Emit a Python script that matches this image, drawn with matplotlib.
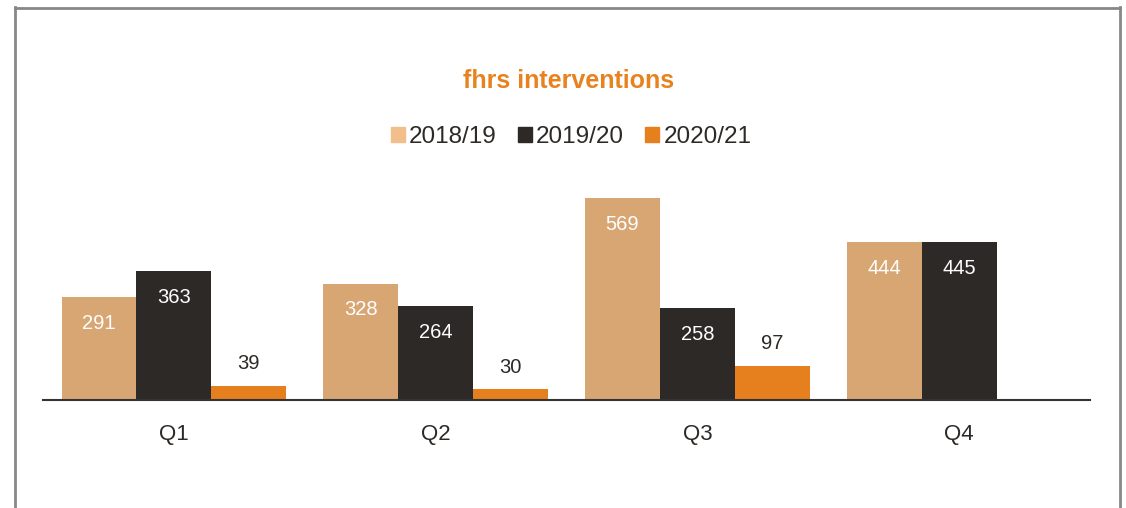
import matplotlib
matplotlib.use("Agg")
import matplotlib.pyplot as plt
from matplotlib.patches import Rectangle
import numpy as np

categories = ["Q1", "Q2", "Q3", "Q4"]
series_names = ["2018/19", "2019/20", "2020/21"]
v_2018 = [291, 328, 569, 444]
v_2019 = [363, 264, 258, 445]
v_2020 = [39, 30, 97, 0]
series_values = [v_2018, v_2019, v_2020]
bar_colors = ["#D8A673", "#2D2926", "#E6801E"]
legend_colors = ["#F2BE8A", "#2D2926", "#E6801E"]
label_colors = ["white", "white", "#2D2926"]
title = "fhrs interventions"

plt.rcParams['font.family'] = ['Liberation Sans', 'DejaVu Sans']

W, H = 1126, 508
fig = plt.figure(figsize=(W / 100, H / 100), dpi=100)

# outer border (left, top, right)
fig.add_artist(plt.Line2D([14.5 / W, 14.5 / W], [0, 1 - 7 / H], color="#888888", lw=2))
fig.add_artist(plt.Line2D([14.5 / W, 1119.5 / W], [1 - 7.5 / H, 1 - 7.5 / H], color="#888888", lw=2))
fig.add_artist(plt.Line2D([1119.5 / W, 1119.5 / W], [0, 1 - 7 / H], color="#888888", lw=2))

base_px = 400
top_px = 150
ymax = (base_px - top_px) / (202 / 569)
ax = fig.add_axes([43 / W, (H - base_px) / H, (1090 - 43) / W, (base_px - top_px) / H])
ax.set_xlim(-0.5, 3.5)
ax.set_ylim(0, ymax)
for s in ["left", "right", "top"]:
    ax.spines[s].set_visible(False)
ax.spines["bottom"].set_color("#333333")
ax.spines["bottom"].set_linewidth(1.5)
ax.set_yticks([])
x = np.arange(len(categories))
ax.set_xticks(x)
ax.set_xticklabels(categories, fontsize=16, color="#2D2926")
ax.tick_params(axis="x", length=0, pad=17)

bw = 0.286
offsets = [-bw, 0, bw]
for i, (vals, c) in enumerate(zip(series_values, bar_colors)):
    ax.bar(x + offsets[i], vals, width=bw, color=c, label=series_names[i], zorder=2)
    for xi, v in zip(x, vals):
        if v == 0:
            continue
        dy = -19 if i < 2 else 16
        ax.annotate(str(v), (xi + offsets[i], v), xytext=(0, dy), textcoords="offset points",
                    ha="center", va="center", color=label_colors[i], fontsize=14.5)

# title
fig.text(569 / W, 1 - 81 / H, title, ha="center", va="center", fontsize=18, fontweight="bold",
         color="#E8821E")

# legend
handles = [Rectangle((0, 0), 1, 1, color=c) for c in legend_colors]
leg = fig.legend(handles, series_names, loc="center", bbox_to_anchor=(571 / W, 1 - 137 / H),
                 ncol=3, frameon=False, fontsize=17.5, handlelength=0.58, handleheight=0.58,
                 handletextpad=0.18, columnspacing=0.86, borderpad=0)
for t in leg.get_texts():
    t.set_color("#2D2926")

fig.savefig("out.png", dpi=100)
